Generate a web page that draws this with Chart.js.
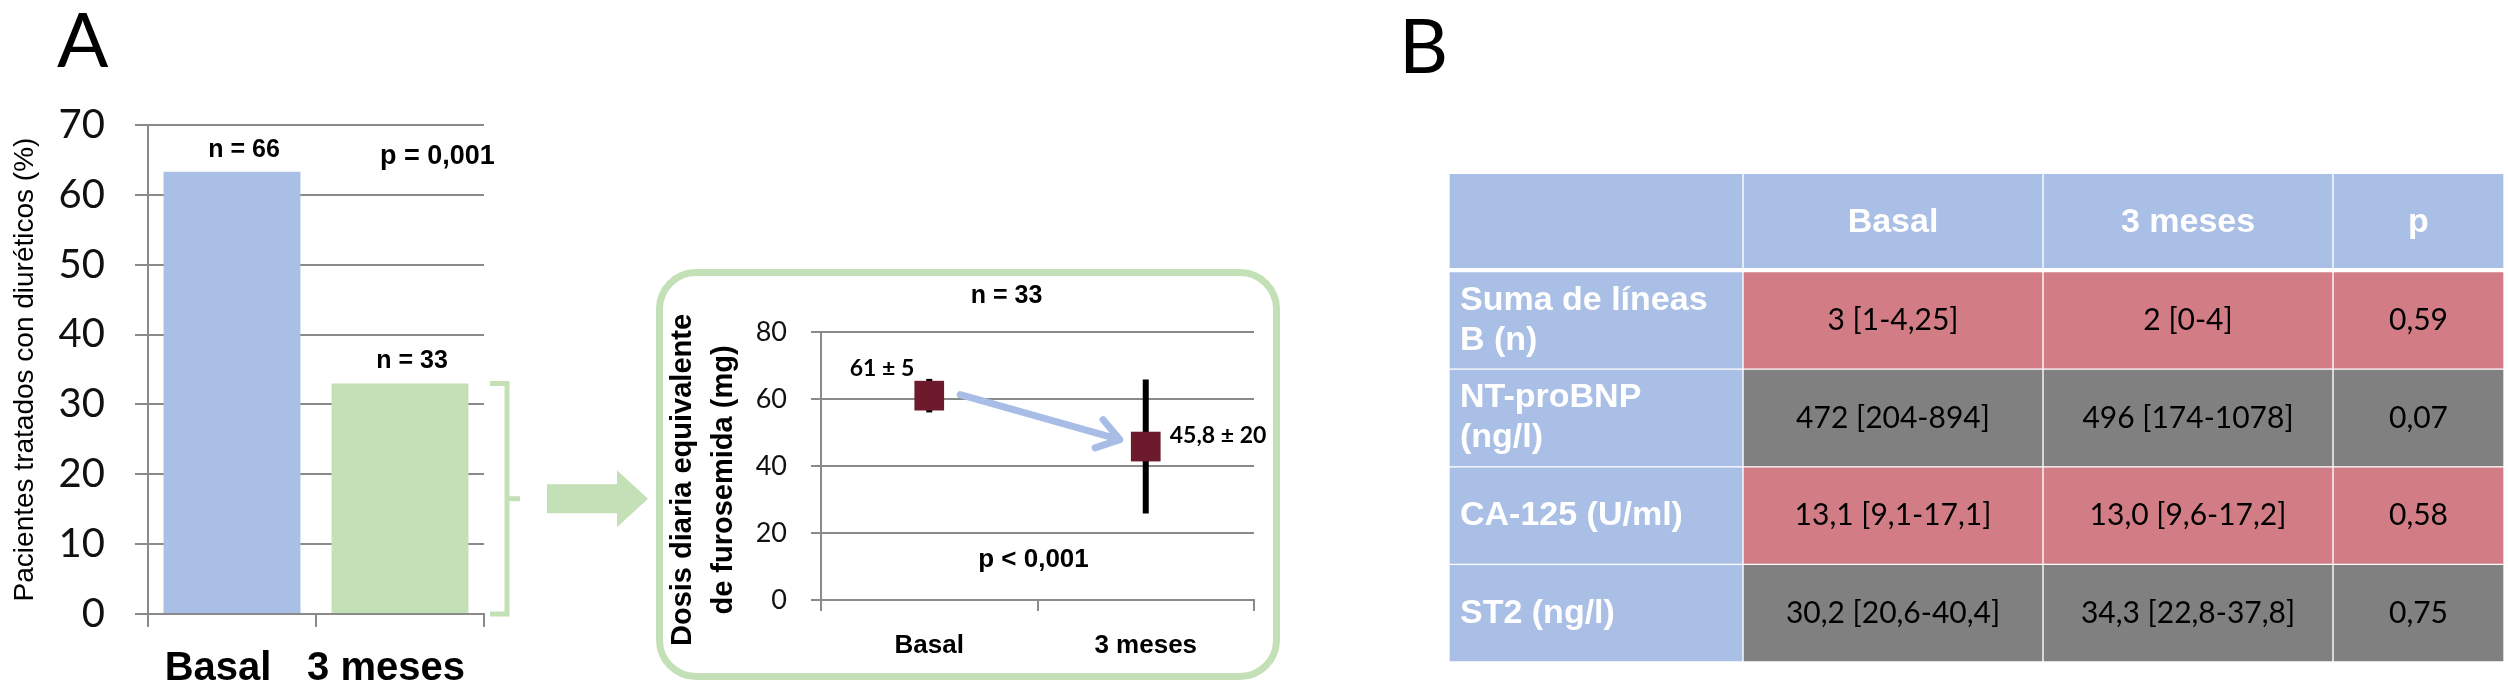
<!DOCTYPE html>
<html>
<head>
<meta charset="utf-8">
<script src="https://cdn.jsdelivr.net/npm/chart.js@4/dist/chart.umd.min.js"></script>
<style>
  body { margin: 0; width: 2508px; height: 693px; background: #fff; position: relative; overflow: hidden; }
  .letra { position: absolute; font-family: Lato, sans-serif; font-size: 76px; line-height: 1; color: #000; }
  .marco { position: absolute; }
  #caja { position: absolute; left: 656px; top: 269px; width: 624px; height: 411px; box-sizing: border-box;
          border: 7px solid #c3e0b7; border-radius: 40px; }
</style>
</head>
<body>
<div class="letra" style="left:57px; top:0px">A</div>
<div class="letra" style="left:1399px; top:6px">B</div>

<div class="marco" style="left:0; top:0; width:660px; height:693px"><canvas id="graficoPacientes"></canvas></div>
<div id="caja"></div>
<div class="marco" style="left:656px; top:269px; width:624px; height:411px"><canvas id="graficoDosis"></canvas></div>
<div class="marco" style="left:1449px; top:174px; width:1055px; height:488px"><canvas id="tablaB"></canvas></div>

<script>
// ---- panel A: pacientes con diureticos
const categoriasA = ['Basal', '3 meses'];
const pacientesDiureticos = [63.3, 33];
const etiquetasN = ['n = 66', 'n = 33'];
const textoPA = 'p = 0,001';

// ---- panel A (recuadro): dosis de furosemida
const categoriasDosis = ['Basal', '3 meses'];
const dosisMedia = [61, 45.8];
const dosisDE = [5, 20];
const etiquetasDosis = ['61 ± 5', '45,8 ± 20'];
const tituloDosis = ['Dosis diaria equivalente', 'de furosemida (mg)'];
const textoNDosis = 'n = 33';
const textoPDosis = 'p < 0,001';

// ---- panel B: tabla
const columnasTabla = ['', 'Basal', '3 meses', 'p'];
const filasTabla = [['Suma de líneas', 'B (n)'], ['NT-proBNP', '(ng/l)'], ['CA-125 (U/ml)'], ['ST2 (ng/l)']];
const valoresBasal = ['3 [1-4,25]', '472 [204-894]', '13,1 [9,1-17,1]', '30,2 [20,6-40,4]'];
const valores3Meses = ['2 [0-4]', '496 [174-1078]', '13,0 [9,6-17,2]', '34,3 [22,8-37,8]'];
const valoresP = ['0,59', '0,07', '0,58', '0,75'];

// estilos
const anchosColumnas = [294, 300, 290, 171];
const azul = '#aabfe5';
const verde = '#c3e0b7';
const rojo = '#d27d86';
const gris = '#808080';
const granate = '#6e1a2d';
const gridGris = '#8a8a8a';
const arial = '"Liberation Sans", Arial, sans-serif';

Chart.defaults.animation = false;
Chart.defaults.events = [];
Chart.defaults.plugins.legend.display = false;
Chart.defaults.plugins.tooltip.enabled = false;
Chart.defaults.color = '#000';

const anotacionesA = {
    id: 'anotacionesA',
    afterDatasetsDraw(chart) {
        const { ctx, chartArea, scales: { x, y } } = chart;
        const barras = chart.getDatasetMeta(0).data;
        ctx.save();
        ctx.fillStyle = '#000';
        ctx.font = 'bold 25px ' + arial;
        ctx.textAlign = 'center';
        ctx.textBaseline = 'middle';
        barras.forEach((bar, i) => ctx.fillText(etiquetasN[i], bar.x + 12, bar.y - 22));

        ctx.font = 'bold 27px ' + arial;
        ctx.textAlign = 'left';
        ctx.fillText(textoPA, x.getPixelForValue(1) - 20, y.getPixelForValue(65.5));

        // llave
        const arriba = y.getPixelForValue(pacientesDiureticos[1]);
        const abajo = y.getPixelForValue(0);
        const medio = (arriba + abajo) / 2;
        const bx = chartArea.right;
        ctx.strokeStyle = verde;
        ctx.lineWidth = 5;
        ctx.beginPath();
        ctx.moveTo(bx + 6, arriba);
        ctx.lineTo(bx + 23, arriba);
        ctx.lineTo(bx + 23, abajo);
        ctx.lineTo(bx + 6, abajo);
        ctx.moveTo(bx + 23, medio);
        ctx.lineTo(bx + 36, medio);
        ctx.stroke();

        // flecha gruesa
        ctx.fillStyle = verde;
        ctx.beginPath();
        ctx.moveTo(bx + 63, medio - 14.5);
        ctx.lineTo(bx + 133, medio - 14.5);
        ctx.lineTo(bx + 133, medio - 28.5);
        ctx.lineTo(bx + 164, medio);
        ctx.lineTo(bx + 133, medio + 28.5);
        ctx.lineTo(bx + 133, medio + 14.5);
        ctx.lineTo(bx + 63, medio + 14.5);
        ctx.closePath();
        ctx.fill();
        ctx.restore();
    }
};

new Chart(document.getElementById('graficoPacientes'), {
    type: 'bar',
    data: {
        labels: categoriasA,
        datasets: [{
            data: pacientesDiureticos,
            backgroundColor: [azul, verde],
            barPercentage: 0.815,
            categoryPercentage: 1
        }]
    },
    options: {
        responsive: true,
        maintainAspectRatio: false,
        devicePixelRatio: 1,
        layout: { padding: { top: 125, right: 176, left: 0, bottom: 0 } },
        scales: {
            x: {
                afterFit(s) { s.height = 79; },
                grid: { drawOnChartArea: false, tickLength: 13, color: gridGris, lineWidth: 2, offset: true },
                border: { color: gridGris, width: 2 },
                ticks: { padding: 18, maxRotation: 0, autoSkip: false, labelOffset: -14, color: '#000',
                         font: { family: arial, size: 40, weight: 'bold' } }
            },
            y: {
                min: 0, max: 70,
                afterFit(s) { s.width = 148; },
                grid: { tickLength: 13, color: gridGris, lineWidth: 2 },
                border: { color: gridGris, width: 2 },
                ticks: { stepSize: 10, padding: 30, color: '#111', font: { family: 'Lato', size: 40 } },
                title: {
                    display: true,
                    text: 'Pacientes tratados con diuréticos (%)',
                    color: '#000',
                    padding: { top: 8, bottom: 0 },
                    font: { family: arial, size: 28 }
                }
            }
        }
    },
    plugins: [anotacionesA]
});

const anotacionesDosis = {
    id: 'anotacionesDosis',
    beforeDatasetsDraw(chart) {
        const { ctx, scales: { y } } = chart;
        const puntos = chart.getDatasetMeta(0).data;
        ctx.save();
        ctx.strokeStyle = '#000';
        ctx.lineWidth = 6;
        puntos.forEach((p, i) => {
            ctx.beginPath();
            ctx.moveTo(p.x, y.getPixelForValue(dosisMedia[i] + dosisDE[i]));
            ctx.lineTo(p.x, y.getPixelForValue(dosisMedia[i] - dosisDE[i]));
            ctx.stroke();
        });
        ctx.restore();
    },
    afterDatasetsDraw(chart) {
        const { ctx, chartArea, scales: { y } } = chart;
        const [p0, p1] = chart.getDatasetMeta(0).data;
        ctx.save();
        // flecha azul
        const x0 = p0.x + 31, y0 = p0.y - 1;
        const x1 = p1.x - 26, y1 = p1.y - 7;
        const ang = Math.atan2(y1 - y0, x1 - x0);
        ctx.strokeStyle = '#a8bde6';
        ctx.lineWidth = 7;
        ctx.lineCap = 'round';
        ctx.lineJoin = 'round';
        ctx.beginPath();
        ctx.moveTo(x0, y0);
        ctx.lineTo(x1, y1);
        ctx.moveTo(x1 - 26 * Math.cos(ang - 0.6), y1 - 26 * Math.sin(ang - 0.6));
        ctx.lineTo(x1, y1);
        ctx.lineTo(x1 - 26 * Math.cos(ang + 0.6), y1 - 26 * Math.sin(ang + 0.6));
        ctx.stroke();

        ctx.fillStyle = '#000';
        ctx.textBaseline = 'middle';
        ctx.font = 'bold 23px Lato';
        ctx.textAlign = 'right';
        ctx.fillText(etiquetasDosis[0], p0.x - 15, p0.y - 27);
        ctx.textAlign = 'left';
        ctx.fillText(etiquetasDosis[1], p1.x + 24, p1.y - 11);

        ctx.textAlign = 'center';
        ctx.font = 'bold 25px ' + arial;
        const cx = (chartArea.left + chartArea.right) / 2;
        ctx.fillText(textoNDosis, cx - 31, chartArea.top - 36);
        ctx.font = 'bold 26px ' + arial;
        ctx.fillText(textoPDosis, cx - 4, y.getPixelForValue(12));

        // titulo del eje y, en dos lineas
        const cy = (chartArea.top + chartArea.bottom) / 2 + 14;
        ctx.font = 'bold 29px ' + arial;
        tituloDosis.forEach((t, i) => {
            ctx.save();
            ctx.translate(27 + i * 41, cy);
            ctx.rotate(-Math.PI / 2);
            ctx.fillText(t, 0, 0);
            ctx.restore();
        });
        ctx.restore();
    }
};

new Chart(document.getElementById('graficoDosis'), {
    type: 'line',
    data: {
        labels: categoriasDosis,
        datasets: [{
            data: dosisMedia,
            showLine: false,
            pointStyle: 'rect',
            pointRadius: 21,
            pointBackgroundColor: granate,
            pointBorderColor: granate,
            pointBorderWidth: 0
        }]
    },
    options: {
        responsive: true,
        maintainAspectRatio: false,
        devicePixelRatio: 1,
        layout: { padding: { top: 63, right: 26, left: 0, bottom: 0 } },
        scales: {
            x: {
                offset: true,
                afterFit(s) { s.height = 80; },
                grid: { drawOnChartArea: false, tickLength: 11, color: gridGris, lineWidth: 2, offset: true },
                border: { color: gridGris, width: 2 },
                ticks: { padding: 19, maxRotation: 0, autoSkip: false, color: '#000',
                         font: { family: arial, size: 26, weight: 'bold' } }
            },
            y: {
                min: 0, max: 80,
                afterFit(s) { s.width = 165; },
                grid: { tickLength: 10, color: gridGris, lineWidth: 2 },
                border: { color: gridGris, width: 2 },
                ticks: { stepSize: 20, padding: 24, color: '#111', font: { family: 'Lato', size: 27 } },
                title: { display: false }
            }
        }
    },
    plugins: [anotacionesDosis]
});

// ---- tabla B como barras apiladas
const columnasDatos = [valoresBasal, valores3Meses, valoresP];
const filasEtiqueta = ['cabecera'].concat(filasTabla.map(f => f.join(' ')));

function colorCelda(r, c) {
    if (r === 0 || c === 0) return azul;
    return r % 2 === 1 ? rojo : gris;
}

const textosTabla = {
    id: 'textosTabla',
    afterDatasetsDraw(chart) {
        const ctx = chart.ctx;
        ctx.save();
        ctx.textBaseline = 'middle';
        chart.data.datasets.forEach((ds, c) => {
            chart.getDatasetMeta(c).data.forEach((celda, r) => {
                const izq = Math.min(celda.x, celda.base);
                const der = Math.max(celda.x, celda.base);
                let lineas, x;
                if (r === 0 || c === 0) {
                    ctx.font = 'bold 34px ' + arial;
                    ctx.fillStyle = '#fff';
                } else {
                    ctx.font = '30px Lato';
                    ctx.fillStyle = '#000';
                }
                if (r === 0) {
                    lineas = [columnasTabla[c]];
                } else if (c === 0) {
                    lineas = filasTabla[r - 1];
                } else {
                    lineas = [columnasDatos[c - 1][r - 1]];
                }
                if (c === 0) {
                    ctx.textAlign = 'left';
                    x = izq + 11;
                } else {
                    ctx.textAlign = 'center';
                    x = (izq + der) / 2;
                }
                lineas.forEach((t, i) => {
                    ctx.fillText(t, x, celda.y + (i - (lineas.length - 1) / 2) * 40);
                });
            });
        });
        ctx.restore();
    }
};

new Chart(document.getElementById('tablaB'), {
    type: 'bar',
    data: {
        labels: filasEtiqueta,
        datasets: columnasTabla.map((col, c) => ({
            label: col,
            data: filasEtiqueta.map(() => anchosColumnas[c]),
            backgroundColor: filasEtiqueta.map((f, r) => colorCelda(r, c)),
            borderColor: '#fff',
            borderWidth: filasEtiqueta.map((f, r) => r === 0 ? { top: 0, left: 1, right: 1, bottom: 4 } : 1),
            borderSkipped: false,
            barPercentage: 1,
            categoryPercentage: 1
        }))
    },
    options: {
        indexAxis: 'y',
        responsive: true,
        maintainAspectRatio: false,
        devicePixelRatio: 1,
        layout: { padding: 0 },
        scales: {
            x: { display: false, stacked: true, min: 0, max: 1055 },
            y: { display: false, stacked: true }
        }
    },
    plugins: [textosTabla]
});
</script>
</body>
</html>
